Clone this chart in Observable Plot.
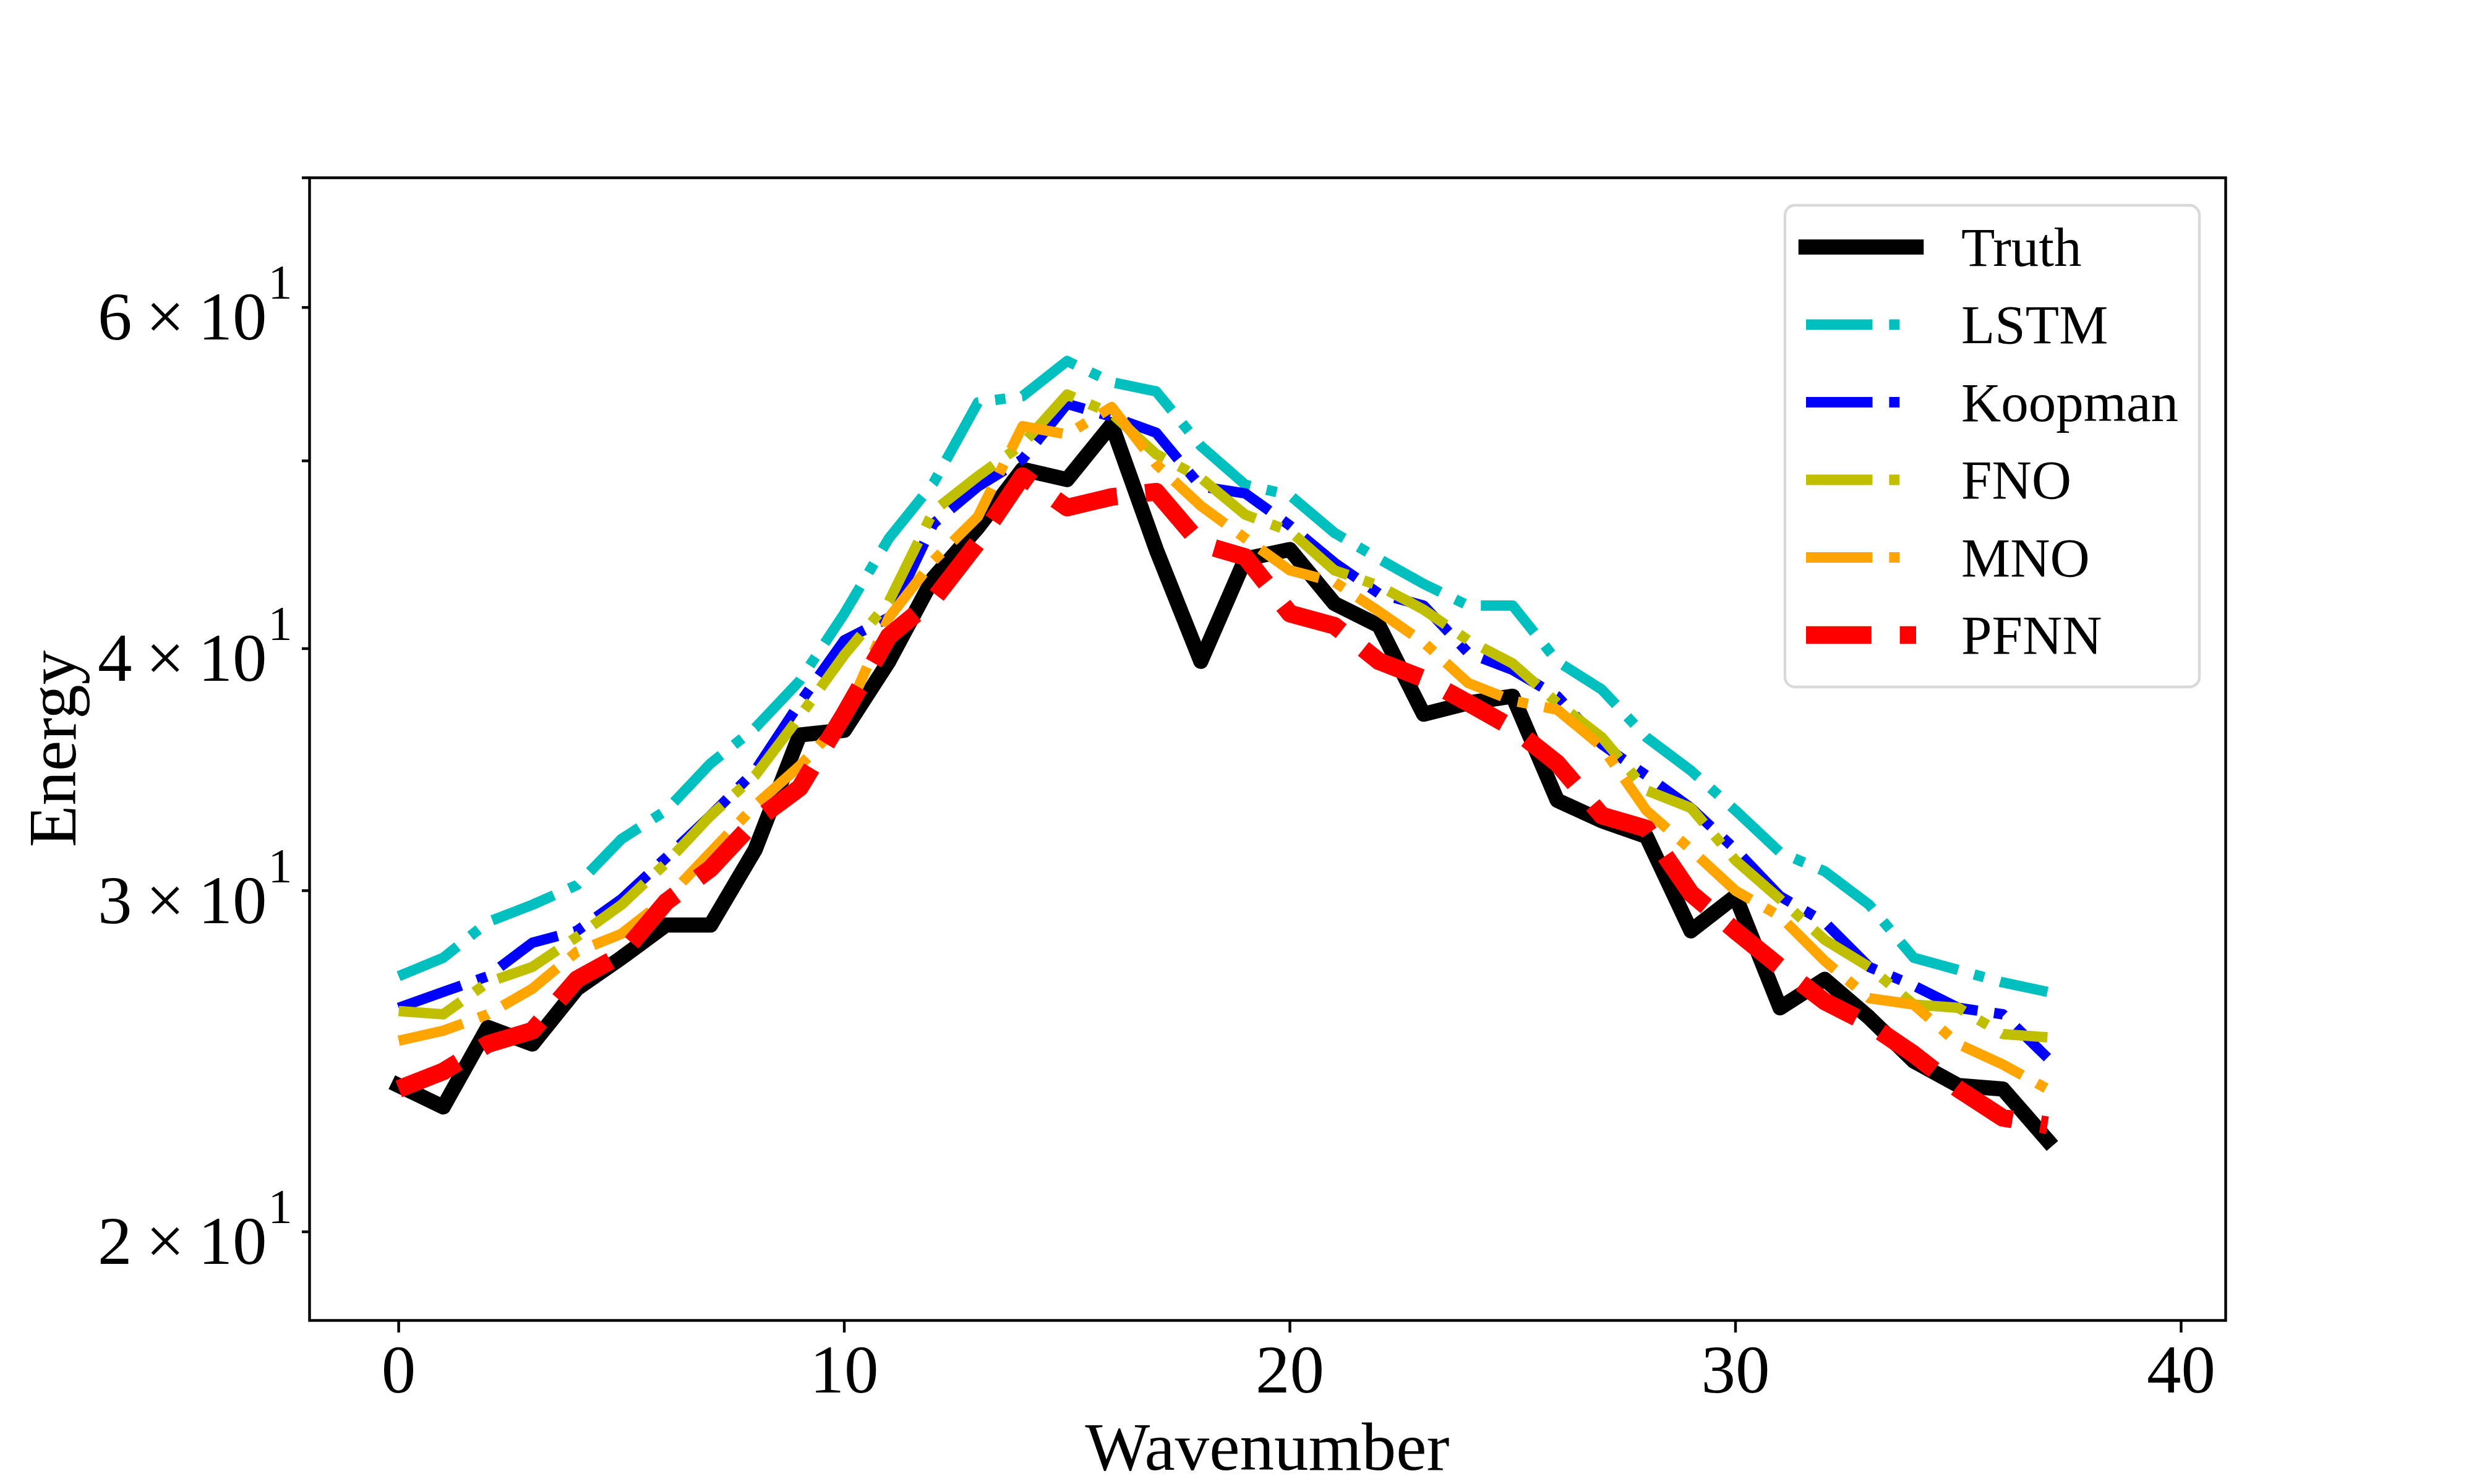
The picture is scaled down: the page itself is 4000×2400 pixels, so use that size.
<!DOCTYPE html>
<html>
<head>
<meta charset="utf-8">
<script src="https://cdn.jsdelivr.net/npm/d3@7"></script>
<script src="https://cdn.jsdelivr.net/npm/@observablehq/plot@0.6"></script>
<style>
  html, body { margin: 0; padding: 0; background: #ffffff; }
</style>
</head>
<body>
<div id="chart"></div>
<script>
// ---- data ----
const wavenumber = [0,1,2,3,4,5,6,7,8,9,10,11,12,13,14,15,16,17,18,19,20,21,22,23,24,25,26,27,28,29,30,31,32,33,34,35,36,37];
const truth   = [23.8,23.2,25.5,25.0,26.7,27.7,28.8,28.8,31.5,36.1,36.3,39.4,43.5,46.2,49.5,48.9,52.2,45.0,39.4,44.5,45.0,42.2,41.1,37.0,37.5,37.8,33.4,32.6,32.0,28.6,29.8,26.1,27.0,25.8,24.5,23.8,23.7,22.3];
const lstm    = [27.1,27.7,28.9,29.5,30.2,31.9,33.0,34.9,36.4,38.5,41.7,45.6,48.7,53.6,54.0,56.3,54.9,54.3,50.9,48.6,48.0,45.9,44.5,43.2,42.1,42.1,39.4,38.1,36.0,34.6,33.0,31.4,30.7,29.5,27.7,27.3,26.9,26.6];
const koopman = [26.1,26.6,27.1,28.2,28.6,29.7,31.2,32.8,34.6,37.5,40.4,41.5,46.4,48.5,50.1,53.5,52.7,51.7,48.5,48.1,46.3,44.3,42.7,42.1,39.8,39.0,37.8,35.7,34.4,33.1,31.5,29.8,28.9,27.4,26.8,26.1,25.9,24.6];
const fno     = [26.0,25.9,26.9,27.4,28.4,29.5,31.0,32.8,34.4,36.9,39.7,42.3,47.1,49.1,51.0,54.1,52.9,50.4,49.0,46.9,46.0,43.9,43.1,41.9,40.4,39.3,37.5,36.0,33.8,33.1,31.1,29.7,28.3,27.4,26.2,26.1,25.3,25.2];
const mno     = [25.1,25.4,25.9,26.7,27.9,28.5,29.7,31.4,33.2,34.8,36.8,41.5,44.4,46.8,52.1,51.6,53.3,49.8,47.4,45.6,43.9,43.3,41.8,40.3,38.4,37.6,37.2,35.6,33.0,31.5,30.0,29.1,27.6,26.4,26.2,25.0,24.4,23.7];
const pfnn    = [23.7,24.2,25.0,25.4,27.0,27.8,29.6,30.8,32.6,33.9,37.0,40.6,42.4,45.4,49.1,47.3,47.9,48.2,45.3,44.6,41.7,41.1,39.4,38.6,37.5,36.4,34.9,32.8,32.3,29.9,28.6,27.4,26.3,25.6,24.7,23.7,22.9,22.7];

const seriesNames  = ["Truth", "LSTM", "Koopman", "FNO", "MNO", "PFNN"];
const seriesValues = [truth, lstm, koopman, fno, mno, pfnn];

const xTicks = [0, 10, 20, 30, 40];
const yTicks = [20, 30, 40, 50, 60, 70];
const yTickMantissa = {20: "2", 30: "3", 40: "4", 60: "6"};
const yTickExponent = "1";
const xLabel = "Wavenumber";
const yLabel = "Energy";

// ---- styles ----
const seriesColors = ["#000000", "#00bfbf", "#0000ff", "#bfbf00", "#ffa500", "#ff0000"];
const seriesWidths = [24.5, 16.8, 16.8, 16.8, 16.8, 28.6];
const dashDot = [6.4, 1.6, 1.0, 1.6];
const dashed = [3.7, 1.6];
const seriesDash = [null, dashDot, dashDot, dashDot, dashDot, dashed];
const FONT = "'Liberation Serif', 'Times New Roman', serif";

const W = 4000, H = 2400;
const mLeft = 500, mRight = 402, mTop = 287, mBottom = 265;

function dashString(i) {
  const d = seriesDash[i];
  return d ? d.map(v => (v * seriesWidths[i]).toFixed(1)).join(",") : null;
}

const lineMarks = seriesNames.map((name, i) => {
  const rows = wavenumber.map((w, k) => ({wavenumber: w, energy: seriesValues[i][k], series: name}));
  const opts = {
    x: "wavenumber", y: "energy",
    stroke: seriesColors[i], strokeWidth: seriesWidths[i],
    strokeLinejoin: "round",
    strokeLinecap: seriesDash[i] ? "butt" : "square"
  };
  const ds = dashString(i);
  if (ds) opts.strokeDasharray = ds;
  return Plot.line(rows, opts);
});

const chart = Plot.plot({
  width: W, height: H,
  marginLeft: mLeft, marginRight: mRight, marginTop: mTop, marginBottom: mBottom,
  style: {fontFamily: FONT, fontSize: "111px", background: "#ffffff", color: "#000000", overflow: "visible"},
  x: {domain: [-2, 41]},
  y: {type: "log", domain: [18, 70]},
  marks: [
    ...lineMarks,
    Plot.frame({stroke: "#000000", strokeWidth: 4.4}),
    Plot.axisX({ticks: xTicks, tickSize: 20, tickPadding: 18, strokeWidth: 4.4, fontSize: 111, tickFormat: d => String(d), label: null}),
    Plot.axisY({ticks: yTicks, tickSize: 12, tickPadding: 16, strokeWidth: 4.4, fontSize: 111,
      tickFormat: d => yTickMantissa[d] ? yTickMantissa[d] + "\u2009\u00d7\u200910" : "", label: null})
  ]
});

document.getElementById("chart").appendChild(chart);
const svg = d3.select(chart.tagName.toLowerCase() === "svg" ? chart : chart.querySelector("svg"));

// superscript exponents on the y tick labels
svg.selectAll('g[aria-label="y-axis tick label"] text').each(function () {
  const t = d3.select(this);
  const s = this.textContent;
  if (!s) return;
  t.text(null);
  t.attr("y", "0.47em");
  t.append("tspan").text(s);
  t.append("tspan").attr("font-size", 78).attr("dy", -67).attr("dx", 2).text(yTickExponent);
});

// axis titles
svg.append("text")
  .attr("x", mLeft + (W - mLeft - mRight) / 2).attr("y", 2377)
  .attr("text-anchor", "middle").attr("font-size", 111).attr("font-family", FONT)
  .attr("fill", "#000").text(xLabel);
svg.append("text")
  .attr("transform", `translate(122,${mTop + (H - mTop - mBottom) / 2}) rotate(-90)`)
  .attr("text-anchor", "middle").attr("font-size", 111).attr("font-family", FONT)
  .attr("fill", "#000").text(yLabel);

// legend (inside the axes, upper right)
const lg = svg.append("g").attr("class", "legend").attr("text-anchor", "start");
lg.append("rect").attr("x", 2886).attr("y", 332).attr("width", 670).attr("height", 779)
  .attr("rx", 16).attr("fill", "#ffffff").attr("fill-opacity", 0.8)
  .attr("stroke", "#d9d9d9").attr("stroke-width", 4.4);
seriesNames.forEach((name, i) => {
  const yRow = 399.5 + i * 125.5;
  const ln = lg.append("line").attr("x1", 2920).attr("x2", 3098).attr("y1", yRow).attr("y2", yRow)
    .attr("stroke", seriesColors[i]).attr("stroke-width", seriesWidths[i])
    .attr("stroke-linecap", seriesDash[i] ? "butt" : "square");
  const ds = dashString(i);
  if (ds) ln.attr("stroke-dasharray", ds);
  lg.append("text").attr("x", 3171).attr("y", yRow + 30).attr("text-anchor", "start")
    .attr("font-size", 89).attr("font-family", FONT).attr("fill", "#000").text(name);
});
</script>
</body>
</html>
